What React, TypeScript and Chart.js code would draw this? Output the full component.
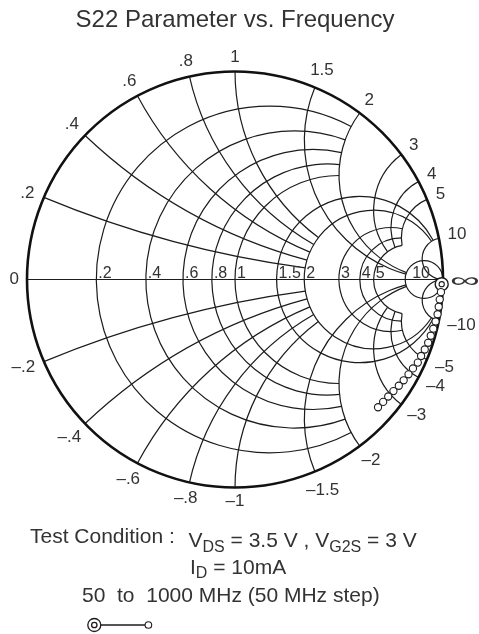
import React, { useEffect, useRef } from "react";
import { Chart, registerables } from "chart.js";

Chart.register(...registerables);

// ---- Data ----
const FREQ_MHZ = [50, 100, 150, 200, 250, 300, 350, 400, 450, 500, 550, 600, 650, 700, 750, 800, 850, 900, 950, 1000];
const S22_MAG = [0.994, 0.992, 0.989, 0.988, 0.988, 0.985, 0.982, 0.979, 0.977, 0.972, 0.967, 0.965, 0.956, 0.95, 0.944, 0.938, 0.931, 0.926, 0.923, 0.921];
const S22_ANG_DEG = [-1.3, -3.5, -5.6, -7.6, -9.7, -11.8, -13.9, -16.0, -18.1, -20.2, -22.3, -24.4, -26.5, -28.6, -30.8, -32.9, -35.1, -37.3, -39.5, -41.7];

// ---- Smith chart grid values / tick labels ----
const RES_VALUES = [0.2, 0.4, 0.6, 0.8, 1, 1.5, 2, 3, 4, 5, 10];
const RES_LABELS = [".2", ".4", ".6", ".8", "1", "1.5", "2", "3", "4", "5", "10"];
const REACT_VALUES = [0.2, 0.4, 0.6, 0.8, 1, 1.5, 2, 3, 4, 5, 10];
const REACT_POS_LABELS = [".2", ".4", ".6", ".8", "1", "1.5", "2", "3", "4", "5", "10"];
const REACT_NEG_LABELS = ["–.2", "–.4", "–.6", "–.8", "–1", "–1.5", "–2", "–3", "–4", "–5", "–10"];
const ZERO_LABEL = "0";
const INF_LABEL = "∞";

const TITLE = "S22 Parameter vs. Frequency";
const COND_LABEL = "Test Condition :";
const RANGE_LABEL = "50  to  1000 MHz (50 MHz step)";

const FONT = '"Liberation Sans", Arial, Helvetica, sans-serif';
const LINE = "#1c1c1c";
const TEXT = "#333";

// how far each family of grid lines extends (classic truncated Smith chart)
function gridLimit(v: number): number {
  if (v <= 1) return 2;
  if (v <= 2) return 10;
  if (v <= 5) return 5;
  return Infinity;
}

function gamma(r: number, x: number) {
  const den = (r + 1) * (r + 1) + x * x;
  return { re: (r * r - 1 + x * x) / den, im: (2 * x) / den };
}

const smithPlugin = {
  id: "smithGrid",
  beforeDatasetsDraw(chart: any) {
    const { ctx, scales } = chart;
    const X = (v: number) => scales.x.getPixelForValue(v);
    const Y = (v: number) => scales.y.getPixelForValue(v);
    const k = X(1) - X(0);
    const cx0 = X(0);
    const cy0 = Y(0);

    ctx.save();
    ctx.strokeStyle = LINE;
    ctx.lineWidth = 1.2;

    // constant resistance circles
    RES_VALUES.forEach((r) => {
      const L = gridLimit(r);
      const cx = X(r / (1 + r));
      const cy = cy0;
      const rad = k / (1 + r);
      ctx.beginPath();
      if (!isFinite(L)) {
        ctx.arc(cx, cy, rad, 0, Math.PI * 2);
      } else {
        const up = gamma(r, L);
        const dn = gamma(r, -L);
        const aU = Math.atan2(Y(up.im) - cy, X(up.re) - cx);
        const aD = Math.atan2(Y(dn.im) - cy, X(dn.re) - cx);
        ctx.arc(cx, cy, rad, aD, aU, false);
      }
      ctx.stroke();
    });

    // constant reactance arcs
    REACT_VALUES.forEach((xv) => {
      [xv, -xv].forEach((x) => {
        const L = gridLimit(xv);
        const cx = X(1);
        const cy = Y(1 / x);
        const rad = k / Math.abs(x);
        const e = gamma(0, x);
        const end = isFinite(L) ? gamma(L, x) : { re: 1, im: 0 };
        const a1 = Math.atan2(Y(e.im) - cy, X(e.re) - cx);
        const a2 = Math.atan2(Y(end.im) - cy, X(end.re) - cx);
        ctx.beginPath();
        ctx.arc(cx, cy, rad, a1, a2, x > 0);
        ctx.stroke();
      });
    });

    // real axis
    ctx.beginPath();
    ctx.moveTo(X(-1), cy0);
    ctx.lineTo(X(1), cy0);
    ctx.stroke();

    // outer circle
    ctx.lineWidth = 2.6;
    ctx.strokeStyle = "#111";
    ctx.beginPath();
    ctx.arc(cx0, cy0, k, 0, Math.PI * 2);
    ctx.stroke();

    // resistance labels on the axis
    ctx.fillStyle = TEXT;
    ctx.font = `16px ${FONT}`;
    ctx.textAlign = "left";
    ctx.textBaseline = "alphabetic";
    RES_VALUES.forEach((r, i) => {
      const off = r >= 10 ? 7 : 2;
      ctx.fillText(RES_LABELS[i], X((r - 1) / (r + 1)) + off, cy0 - 1.5);
    });

    // reactance labels round the rim
    ctx.font = `17px ${FONT}`;
    ctx.textAlign = "center";
    ctx.textBaseline = "middle";
    const rim = (text: string, theta: number) => {
      const w = ctx.measureText(text).width;
      const d = 8 + (w / 2) * Math.abs(Math.cos(theta)) + 6 * Math.abs(Math.sin(theta));
      ctx.fillText(text, cx0 + (k + d) * Math.cos(theta), cy0 - (k + d) * Math.sin(theta));
    };
    REACT_VALUES.forEach((x, i) => {
      const ep = gamma(0, x);
      rim(REACT_POS_LABELS[i], Math.atan2(ep.im, ep.re));
      const en = gamma(0, -x);
      rim(REACT_NEG_LABELS[i], Math.atan2(en.im, en.re));
    });
    rim(ZERO_LABEL, Math.PI);

    // infinity at the open-circuit point (thin, wide glyph)
    ctx.save();
    ctx.font = `24px ${FONT}`;
    const sx = 1.75;
    const wi = ctx.measureText(INF_LABEL).width * sx;
    const ix = cx0 + k + 7 + wi / 2;
    ctx.translate(ix, cy0 + 1.5);
    ctx.scale(sx, 0.85);
    ctx.fillText(INF_LABEL, 0, 0);
    ctx.restore();

    ctx.restore();
  },
  afterDraw(chart: any) {
    const { ctx } = chart;
    ctx.save();
    ctx.fillStyle = TEXT;
    ctx.textAlign = "left";
    ctx.textBaseline = "alphabetic";

    const seq = (x: number, y: number, parts: [string, boolean][], subDy: number) => {
      let cx = x;
      parts.forEach(([t, sub]) => {
        ctx.font = sub ? `16px ${FONT}` : `21px ${FONT}`;
        ctx.fillText(t, cx, sub ? y + subDy : y);
        cx += ctx.measureText(t).width;
      });
    };

    ctx.font = `21px ${FONT}`;
    ctx.fillText(COND_LABEL, 30, 543.3);
    seq(188.5, 546.6, [["V", false], ["DS", true], [" = 3.5 V , V", false], ["G2S", true], [" = 3 V", false]], 5);
    seq(190, 574, [["I", false], ["D", true], [" = 10mA", false]], 3.5);
    ctx.font = `21px ${FONT}`;
    ctx.fillText(RANGE_LABEL, 82, 601.7);

    // legend: start (double circle) to end (single circle)
    ctx.strokeStyle = LINE;
    ctx.fillStyle = "#fff";
    ctx.lineWidth = 1.3;
    ctx.beginPath();
    ctx.moveTo(101, 625);
    ctx.lineTo(145, 625);
    ctx.stroke();
    ctx.beginPath();
    ctx.arc(94.3, 625, 6.5, 0, Math.PI * 2);
    ctx.fill();
    ctx.stroke();
    ctx.beginPath();
    ctx.arc(94.3, 625, 2.7, 0, Math.PI * 2);
    ctx.stroke();
    ctx.lineWidth = 1.1;
    ctx.beginPath();
    ctx.arc(148.4, 625, 3.3, 0, Math.PI * 2);
    ctx.fill();
    ctx.stroke();
    ctx.restore();
  },
};

export default function App() {
  const ref = useRef<HTMLCanvasElement | null>(null);

  useEffect(() => {
    if (!ref.current) return;
    const pts = S22_MAG.map((m, i) => {
      const a = (S22_ANG_DEG[i] * Math.PI) / 180;
      return { x: m * Math.cos(a), y: m * Math.sin(a), f: FREQ_MHZ[i] };
    });
    const chart = new Chart(ref.current, {
      type: "scatter",
      data: {
        datasets: [
          {
            label: "start",
            data: [pts[0]],
            pointRadius: 2.6,
            pointBorderWidth: 1.1,
            pointBackgroundColor: "#fff",
            pointBorderColor: LINE,
            clip: false,
          } as any,
          {
            label: "S22",
            data: pts,
            pointRadius: pts.map((_, i) => (i === 0 ? 6.5 : 3.6)),
            pointBorderWidth: pts.map((_, i) => (i === 0 ? 1.4 : 1.1)),
            pointBackgroundColor: "#fff",
            pointBorderColor: LINE,
            showLine: false,
            clip: false,
          } as any,
        ],
      },
      options: {
        responsive: false,
        animation: false,
        devicePixelRatio: 1,
        events: [],
        layout: { padding: { left: 27, right: 36, top: 0, bottom: 146 } },
        scales: {
          x: { type: "linear", min: -1, max: 1, display: false },
          y: { type: "linear", min: -1, max: 1, display: false },
        },
        plugins: {
          legend: { display: false },
          tooltip: { enabled: false },
          title: {
            display: true,
            text: TITLE,
            color: TEXT,
            font: { family: FONT, size: 24, weight: "normal" },
            padding: { top: 5.6, bottom: 36.6 },
          },
        },
      } as any,
      plugins: [smithPlugin],
    });
    return () => chart.destroy();
  }, []);

  return (
    <div style={{ position: "absolute", left: 0, top: 0, width: 479, height: 634, background: "#fff" }}>
      <canvas ref={ref} width={479} height={634} style={{ display: "block", width: 479, height: 634 }} />
    </div>
  );
}
